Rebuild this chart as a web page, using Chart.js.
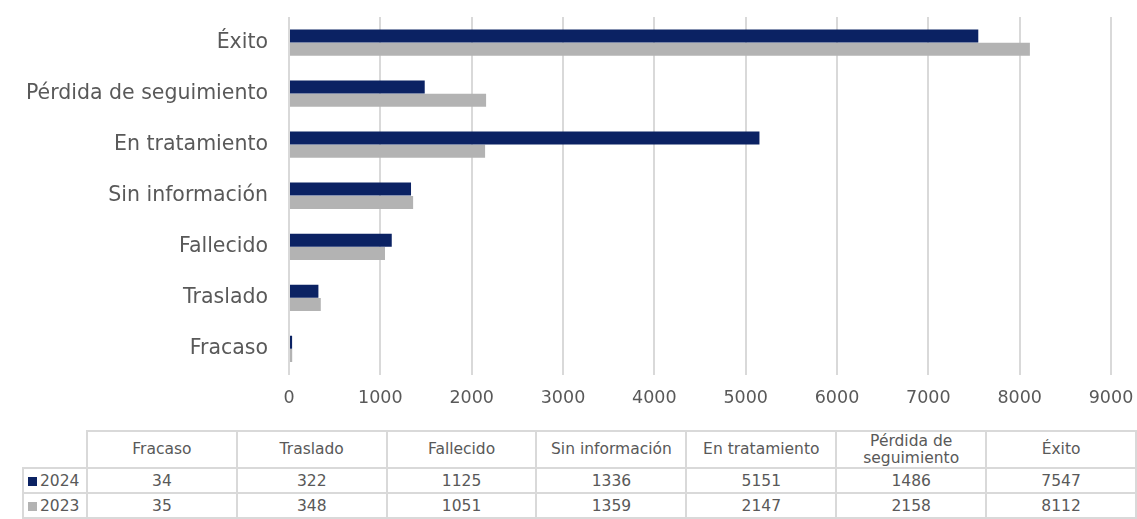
<!DOCTYPE html>
<html lang="es">
<head>
<meta charset="utf-8">
<title>Resultado del tratamiento 2023-2024</title>
<script src="https://cdn.jsdelivr.net/npm/chart.js@4.4.1/dist/chart.umd.min.js"></script>
<style>
    html, body { margin: 0; padding: 0; background: #fff; }
    body { width: 1137px; height: 519px; overflow: hidden; position: relative; font-family: "DejaVu Sans", sans-serif; }
    #chart-box { position: absolute; left: 0; top: 0; width: 1137px; height: 420px; }
    #data-table { position: absolute; left: 22px; top: 430px; border-collapse: collapse; color: #595959; font-size: 15.5px; }
    #data-table td, #data-table th { border: 2px solid #d9d9d9; text-align: center; font-weight: normal; padding: 0; }
    #data-table th { width: 148px; height: 35px; line-height: 17px; }
    #data-table td { height: 23px; }
    #data-table .corner { border: none; width: 63px; }
    #data-table .serie { text-align: left; padding-left: 4px; white-space: nowrap; }
    .key { display: inline-block; width: 9px; height: 9px; margin-right: 3px; }
</style>
</head>
<body>
<div id="chart-box"><canvas id="resultados"></canvas></div>
<table id="data-table"></table>
<script>
// categorías en el orden de la tabla (de abajo hacia arriba en el gráfico)
const categories = ["Fracaso", "Traslado", "Fallecido", "Sin información", "En tratamiento", "Pérdida de seguimiento", "Éxito"];
const tableHeaders = ["Fracaso", "Traslado", "Fallecido", "Sin información", "En tratamiento", "Pérdida de<br>seguimiento", "Éxito"];
const values2024 = [34, 322, 1125, 1336, 5151, 1486, 7547];
const values2023 = [35, 348, 1051, 1359, 2147, 2158, 8112];
const xTicks = [0, 1000, 2000, 3000, 4000, 5000, 6000, 7000, 8000, 9000];

const colors = { y2024: "#0b2263", y2023: "#b3b3b3", text: "#595959", grid: "#d9d9d9" };

document.addEventListener("DOMContentLoaded", () => {
    const ctx = document.getElementById("resultados").getContext("2d");

    new Chart(ctx, {
        type: "bar",
        data: {
            labels: categories.slice().reverse(),
            datasets: [
                { label: "2024", data: values2024.slice().reverse(), backgroundColor: colors.y2024 },
                { label: "2023", data: values2023.slice().reverse(), backgroundColor: colors.y2023 }
            ]
        },
        options: {
            indexAxis: "y",
            responsive: true,
            maintainAspectRatio: false,
            animation: false,
            layout: { padding: { top: 17, right: 26, left: 0, bottom: 0 } },
            datasets: { bar: { categoryPercentage: 0.52, barPercentage: 0.98 } },
            plugins: {
                legend: { display: false },
                tooltip: { enabled: false }
            },
            scales: {
                x: {
                    min: 0,
                    max: 9000,
                    afterBuildTicks: axis => { axis.ticks = xTicks.map(v => ({ value: v })); },
                    afterFit: axis => {
                        axis.height = 45.5;
                        axis.paddingLeft = 0;
                        axis.paddingRight = 0;
                    },
                    border: { display: false },
                    grid: { color: colors.grid, lineWidth: 2, drawTicks: false },
                    ticks: {
                        color: colors.text,
                        padding: 13,
                        font: { family: "DejaVu Sans", size: 17.5 },
                        callback: v => String(v)
                    }
                },
                y: {
                    afterFit: axis => {
                        axis.width = 289;
                        // sin margen extra arriba/abajo por las etiquetas
                        axis.paddingTop = 0;
                        axis.paddingBottom = 0;
                    },
                    border: { display: false },
                    grid: { display: false, drawTicks: false },
                    ticks: { color: colors.text, padding: 21, font: { family: "DejaVu Sans", size: 20.5 } }
                }
            }
        }
    });

    // tabla de datos bajo el gráfico
    const table = document.getElementById("data-table");
    let html = "<tr><th class='corner'></th>";
    tableHeaders.forEach(h => { html += `<th>${h}</th>`; });
    html += "</tr>";
    [["2024", values2024, colors.y2024], ["2023", values2023, colors.y2023]].forEach(([name, vals, col]) => {
        html += `<tr><td class="serie"><span class="key" style="background:${col}"></span>${name}</td>`;
        vals.forEach(v => { html += `<td>${v}</td>`; });
        html += "</tr>";
    });
    table.innerHTML = html;
});
</script>
</body>
</html>
